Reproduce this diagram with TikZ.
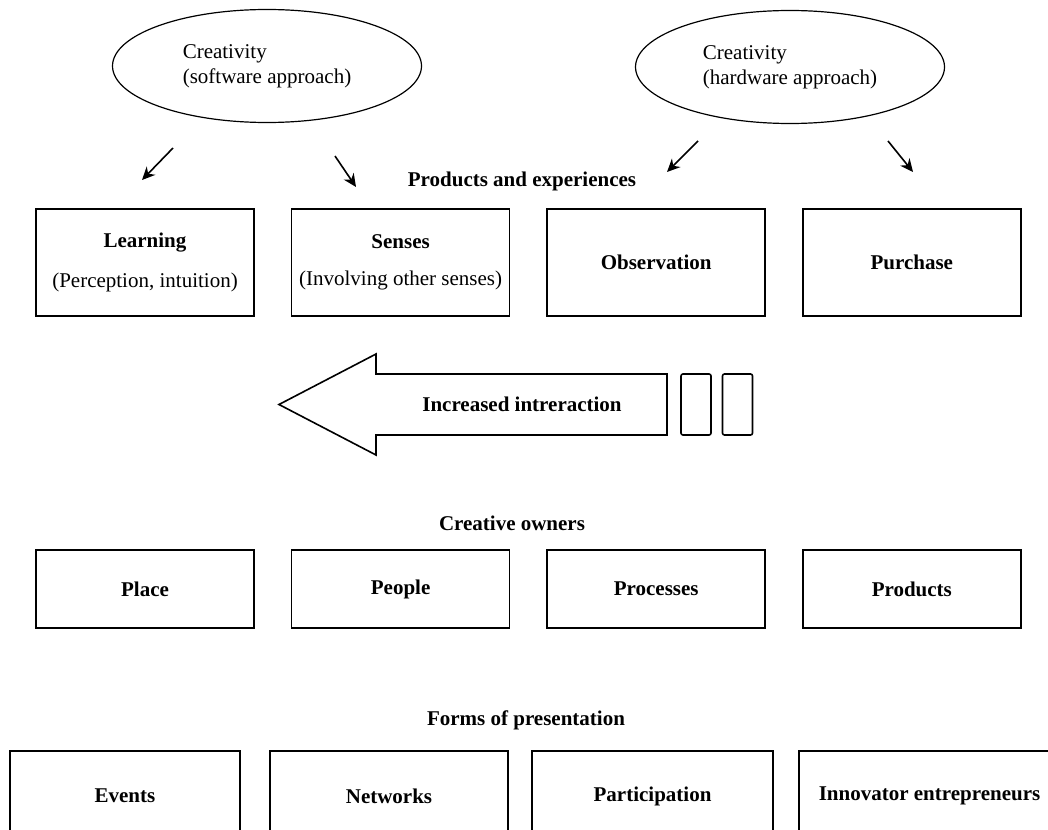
\documentclass[tikz,border=0pt]{standalone}
\usepackage{fontspec}
\setmainfont{Liberation Serif}
\usetikzlibrary{arrows.meta,positioning,shapes.geometric}

\begin{document}
\begin{tikzpicture}[
  x=0.5pt, y=-0.5pt,
  node distance=18pt,
  every node/.style={font=\fontsize{10.5}{12.6}\selectfont},
  approach/.style={ellipse, draw, line width=0.6pt, minimum width=154.5pt,
                   minimum height=56.5pt, inner sep=0pt, align=left},
  card/.style={rectangle, draw, line width=0.8pt, minimum width=109pt,
               minimum height=53.5pt, inner sep=1pt, align=center,
               font=\fontsize{10.5}{12.6}\selectfont\bfseries},
  owner/.style={card, minimum height=39pt},
  form/.style={card, minimum height=45pt},
  tab/.style={rectangle, draw, line width=0.8pt, rounded corners=1pt,
              minimum width=15pt, minimum height=30.5pt, inner sep=0pt},
  heading/.style={font=\fontsize{10.5}{12.6}\selectfont\bfseries},
  arrow/.style={-{Stealth[length=6.5pt,width=6pt]}, line width=0.8pt}
]
  \clip (0,0) rectangle (1048,829);

  % Creativity
  \node[approach] (soft) at (267,66) {Creativity\\(software approach)};
  \node[approach] (hard) at (790,67) {Creativity\\(hardware approach)};

  % Products and experiences
  \node[heading] (prodhead) at (522,181) {Products and experiences};
  \node[card] (learn) at (145,262.5)
    {Learning\\[7pt]{\normalfont (Perception, intuition)}};
  \node[card, right=of learn] (senses)
    {Senses\\[6pt]{\normalfont (Involving other senses)}};
  \node[card, right=of senses] (observe) {Observation};
  \node[card, right=of observe] (purchase) {Purchase};

  % Arrows from the two approaches
  \coordinate (a1) at (173,148); \coordinate (b1) at (142,180);
  \coordinate (a2) at (335,156); \coordinate (b2) at (356,187);
  \coordinate (a3) at (698,141); \coordinate (b3) at (667,172);
  \coordinate (a4) at (888,141); \coordinate (b4) at (913,172);
  \draw[arrow] (a1) -- (b1);
  \draw[arrow] (a2) -- (b2);
  \draw[arrow] (a3) -- (b3);
  \draw[arrow] (a4) -- (b4);

  % Increased interaction
  \draw[line width=0.8pt, line join=miter]
    (667,374) -- (376,374) -- (376,354) -- (279,404.5)
    -- (376,455) -- (376,435) -- (667,435) -- cycle;
  \node[heading] (inter) at (522,404.5) {Increased intreraction};
  \node[tab] (tab1) at (696,404.5) {};
  \node[tab] (tab2) at (737.5,404.5) {};

  % Creative owners
  \node[heading] (ownhead) at (512,523) {Creative owners};
  \node[owner] (place) at (145,589) {Place};
  \node[owner, right=of place] (people) {People};
  \node[owner, right=of people] (process) {Processes};
  \node[owner, right=of process] (products) {Products};

  % Forms of presentation
  \node[heading] (formhead) at (526,720) {Forms of presentation};
  \node[form, minimum width=115pt] (events) at (125,796) {Events};
  \node[form, minimum width=119pt] (networks) at (389,796) {Networks};
  \node[form, minimum width=120.5pt] (partic) at (652.5,796) {Participation};
  \node[form, minimum width=130.5pt] (innov) at (929.5,796) {Innovator entrepreneurs};
\end{tikzpicture}
\end{document}
